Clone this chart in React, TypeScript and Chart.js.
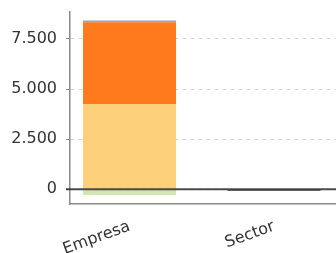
import React, { useEffect, useRef } from "react";
import { Chart, registerables } from "chart.js";

Chart.register(...registerables);

const categories = ["Empresa", "Sector"];
const categoryPositions = [0, 1];
const yTickValues = [0, 2500, 5000, 7500];

const seriesVerde = [-280, 0];
const seriesClaro = [4250, 0];
const seriesOscuro = [4080, 0];
const seriesAzul = [85, 0];
const seriesMarino = [0, -70];

const Y_MIN = -735;
const Y_MAX = 8845;
const X_MIN = -0.412;
const X_MAX = 1.429;

const fmt = (v: number) =>
  String(Math.round(v)).replace(/\B(?=(\d{3})+(?!\d))/g, ".");

const toPoints = (arr: number[]) =>
  arr.map((y, i) => ({ x: categoryPositions[i], y }));

export default function App() {
  const ref = useRef<HTMLCanvasElement | null>(null);

  useEffect(() => {
    if (!ref.current) return;

    const zeroLine = {
      id: "zeroLine",
      afterDatasetsDraw(chart: any) {
        const { ctx, chartArea, scales } = chart;
        const y0 = scales.y.getPixelForValue(0);
        ctx.save();
        ctx.strokeStyle = "rgba(45,45,45,0.85)";
        ctx.lineWidth = 2;
        ctx.beginPath();
        ctx.moveTo(chartArea.left - 4, y0);
        ctx.lineTo(chartArea.right, y0);
        ctx.stroke();
        ctx.restore();
      },
    };

    const mk = (label: string, data: number[], color: string) => ({
      label,
      data: toPoints(data),
      backgroundColor: color,
      borderWidth: 0,
      barPercentage: 0.644,
      categoryPercentage: 1,
    });

    const chart = new Chart(ref.current, {
      type: "bar",
      data: {
        datasets: [
          mk("verde", seriesVerde, "#d3e6b0"),
          mk("claro", seriesClaro, "#fdd07c"),
          mk("oscuro", seriesOscuro, "#ff7a1c"),
          mk("azul", seriesAzul, "#8ea7c6"),
          mk("marino", seriesMarino, "#3d3558"),
        ],
      },
      options: {
        responsive: false,
        animation: false,
        events: [],
        layout: { padding: { top: 12, right: 0, left: 0, bottom: 0 } },
        plugins: { legend: { display: false }, tooltip: { enabled: false } },
        scales: {
          x: {
            type: "linear",
            stacked: true,
            offset: false,
            min: X_MIN,
            max: X_MAX,
            afterBuildTicks: (s: any) => {
              s.ticks = categoryPositions.map((v) => ({ value: v }));
            },
            afterFit: (s: any) => {
              s.height = 49;
              s.paddingLeft = 0;
              s.paddingRight = 0;
            },
            grid: { display: false, drawTicks: false },
            border: { display: true, color: "#8a8a8a", width: 1.5 },
            ticks: {
              minRotation: 20,
              maxRotation: 20,
              padding: 13,
              color: "#333",
              font: { family: "DejaVu Sans", size: 16 },
              callback: (v: any) => {
                const i = categoryPositions.indexOf(Number(v));
                return i >= 0 ? categories[i] : "";
              },
            },
          },
          y: {
            stacked: true,
            min: Y_MIN,
            max: Y_MAX,
            afterBuildTicks: (s: any) => {
              s.ticks = yTickValues.map((v) => ({ value: v }));
            },
            afterFit: (s: any) => {
              s.width = 70;
              s.paddingTop = 0;
              s.paddingBottom = 0;
            },
            grid: {
              color: "#d6d6d6",
              tickColor: "#8a8a8a",
              tickLength: 4,
              tickBorderDash: [],
              lineWidth: 1,
            },
            border: { display: true, color: "#8a8a8a", width: 1.5, dash: [4, 4] },
            ticks: {
              padding: 9,
              color: "#333",
              font: { family: "DejaVu Sans", size: 16 },
              callback: (v: any) => fmt(Number(v)),
            },
          },
        },
      },
      plugins: [zeroLine],
    } as any);

    return () => chart.destroy();
  }, []);

  return (
    <div style={{ position: "fixed", left: 0, top: 0, width: 336, height: 253, background: "#fff" }}>
      <canvas ref={ref} width={336} height={253} style={{ display: "block" }} />
    </div>
  );
}
